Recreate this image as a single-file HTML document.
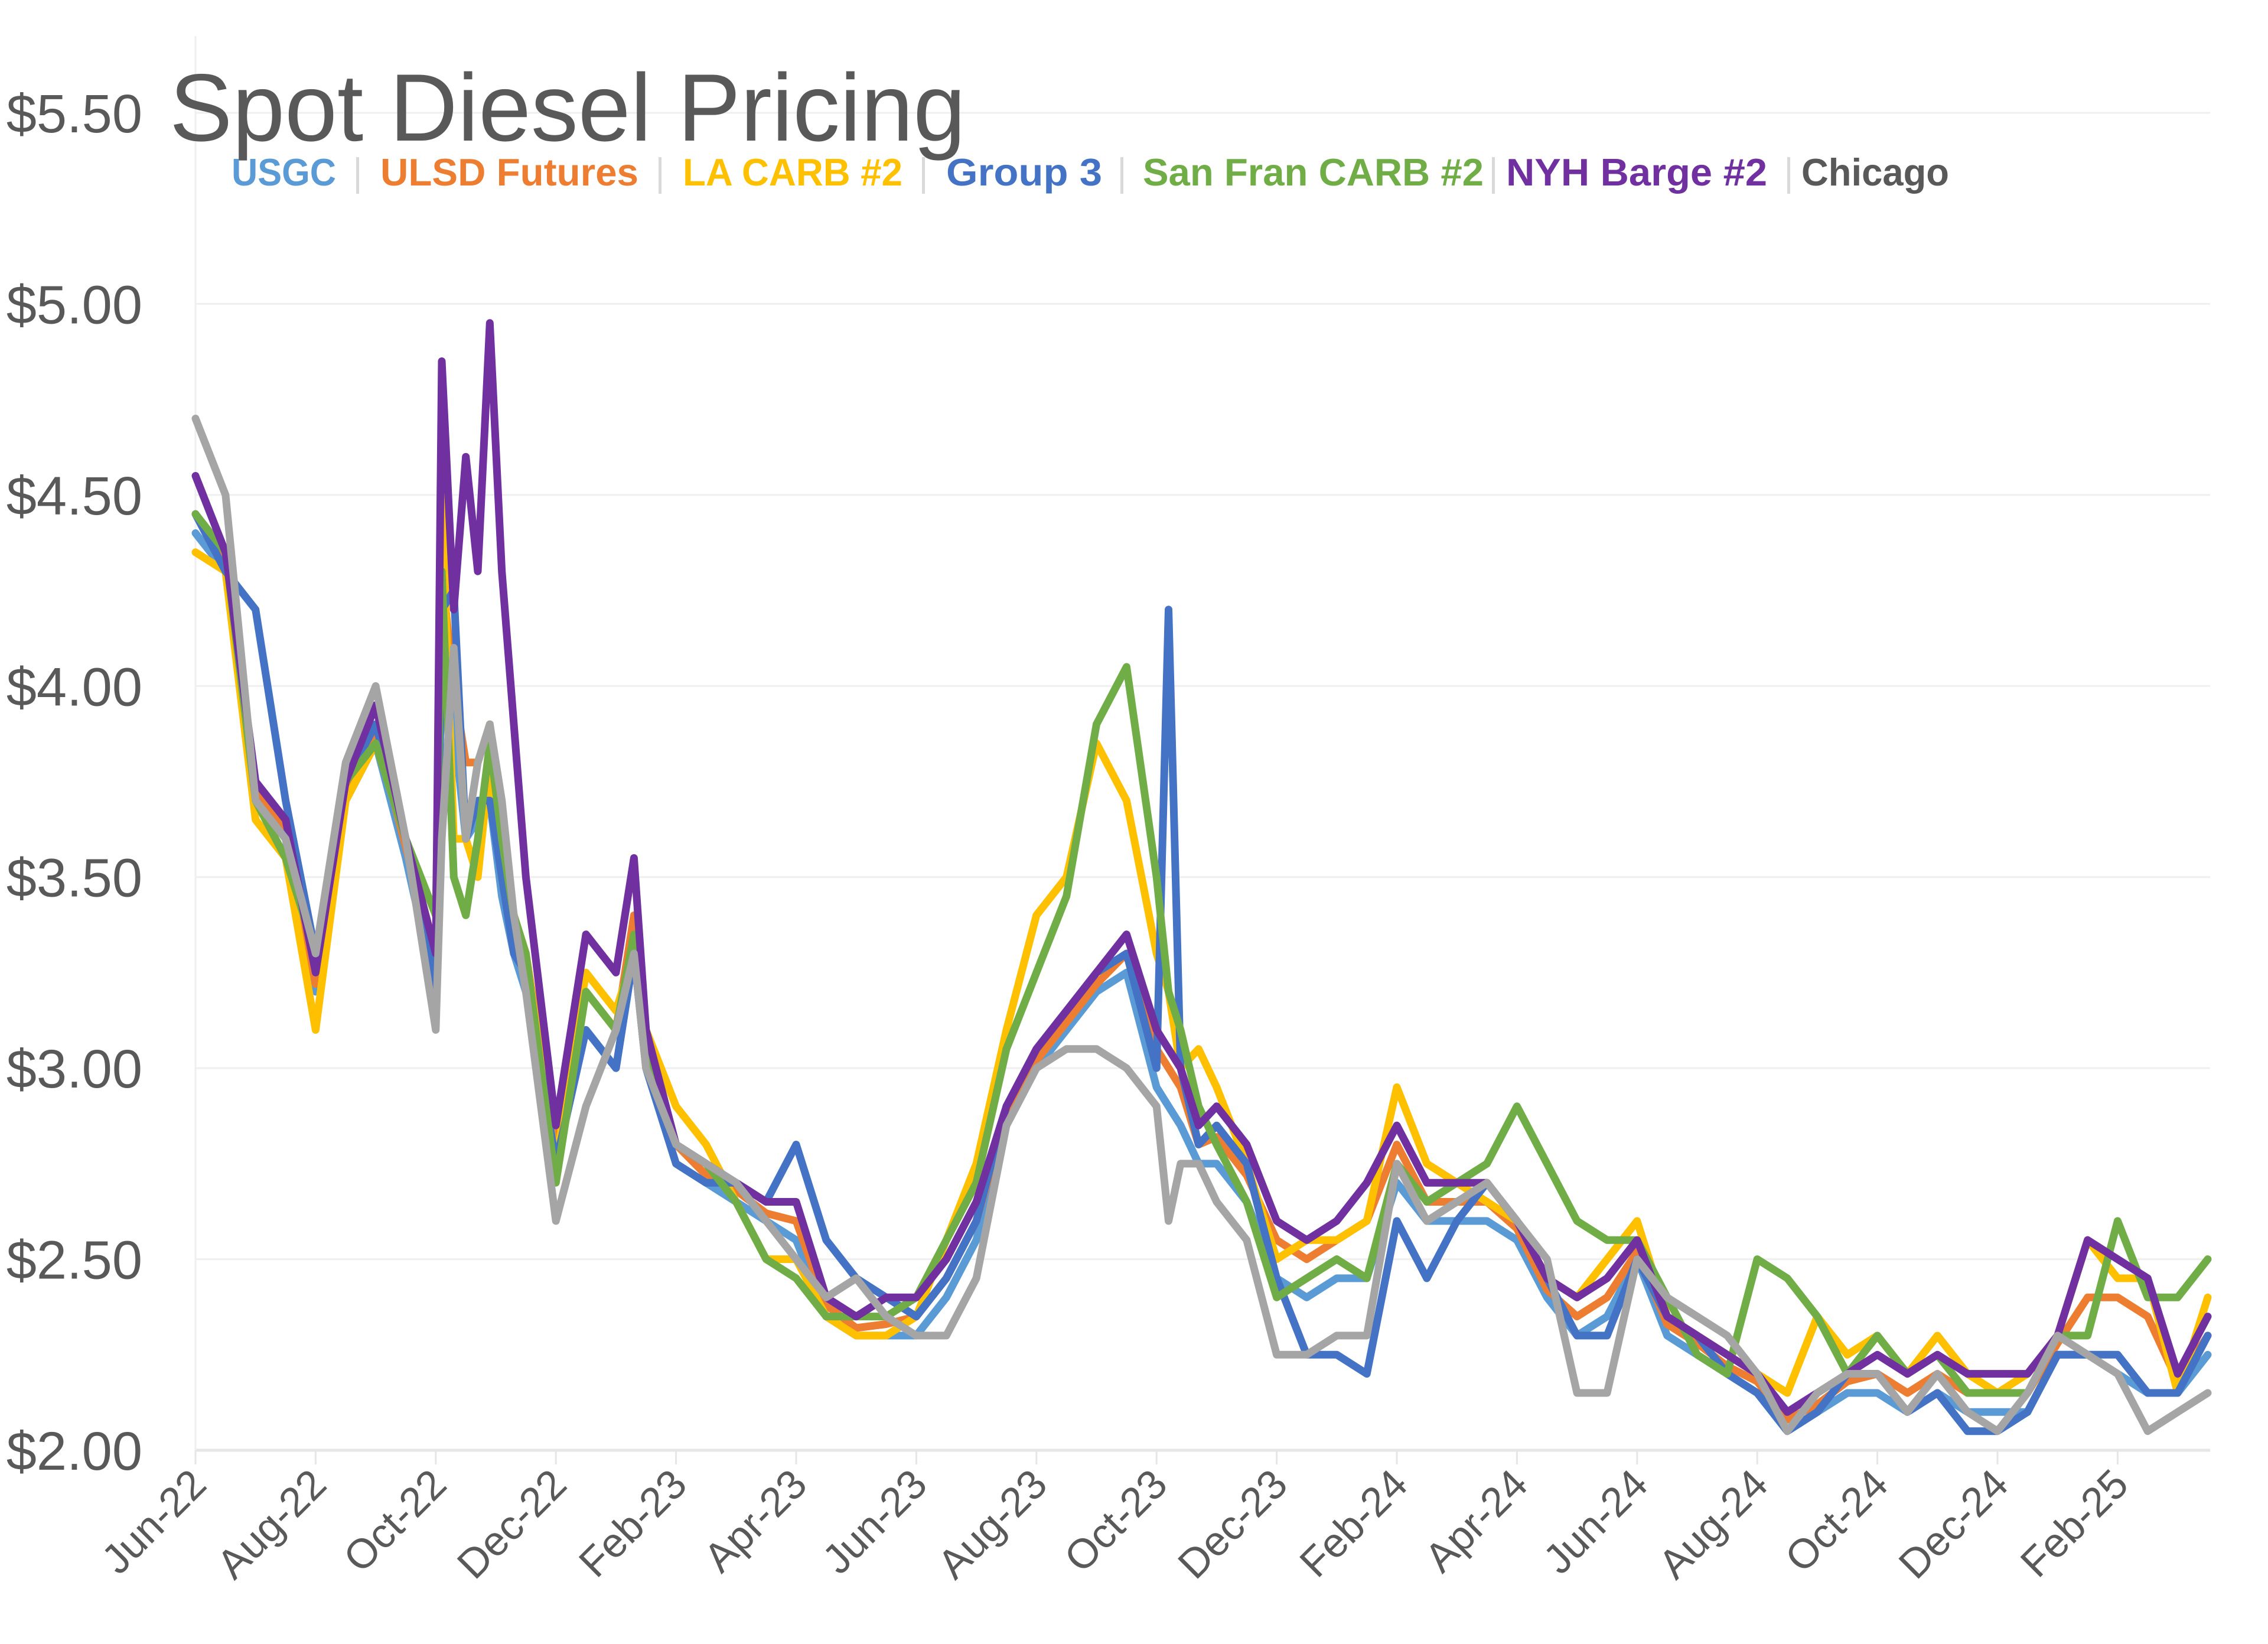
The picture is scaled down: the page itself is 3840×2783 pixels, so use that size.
<!DOCTYPE html>
<html><head><meta charset="utf-8"><style>
html,body{margin:0;padding:0;background:#fff;}
svg{display:block;font-family:"Liberation Sans",sans-serif;}
</style></head><body>
<svg id="chart" width="3840" height="2783" viewBox="0 0 3840 2783" xmlns="http://www.w3.org/2000/svg">
<rect width="3840" height="2783" fill="#fff"/>
<g id="grid"></g>
<g id="yaxis"></g>
<g id="xaxis"></g>
<g id="series"></g>
<text x="287" y="238" font-size="162" fill="#595959" textLength="1348" lengthAdjust="spacingAndGlyphs">Spot Diesel Pricing</text>
<g font-size="65" font-weight="bold">
<text x="392" y="314" fill="#5B9BD5" textLength="177" lengthAdjust="spacingAndGlyphs">USGC</text>
<rect x="603" y="266" width="5" height="62" fill="#d9d9d9"/>
<text x="644" y="314" fill="#ED7D31" textLength="437" lengthAdjust="spacingAndGlyphs">ULSD Futures</text>
<rect x="1115" y="266" width="5" height="62" fill="#d9d9d9"/>
<text x="1156" y="314" fill="#FFC000" textLength="372" lengthAdjust="spacingAndGlyphs">LA CARB #2</text>
<rect x="1561" y="266" width="5" height="62" fill="#d9d9d9"/>
<text x="1602" y="314" fill="#4472C4" textLength="264" lengthAdjust="spacingAndGlyphs">Group 3</text>
<rect x="1897" y="266" width="5" height="62" fill="#d9d9d9"/>
<text x="1935" y="314" fill="#70AD47" textLength="577" lengthAdjust="spacingAndGlyphs">San Fran CARB #2</text>
<rect x="2526" y="266" width="5" height="62" fill="#d9d9d9"/>
<text x="2550" y="314" fill="#7030A0" textLength="442" lengthAdjust="spacingAndGlyphs">NYH Barge #2</text>
<rect x="3026" y="266" width="5" height="62" fill="#d9d9d9"/>
<text x="3050" y="314" fill="#595959" textLength="250" lengthAdjust="spacingAndGlyphs">Chicago</text>
</g>
</svg>
<script>
const months = [0,0.5,1,1.5,2,2.5,3,3.5,4,4.1,4.3,4.5,4.7,4.9,5.1,5.3,5.5,6,6.5,7,7.3,7.5,8,8.5,9,9.5,10,10.5,11,11.5,12,12.5,13,13.5,14,14.5,15,15.5,16,16.2,16.4,16.7,17,17.5,18,18.5,19,19.5,20,20.5,21,21.5,22,22.5,23,23.5,24,24.5,25,25.5,26,26.5,27,27.5,28,28.5,29,29.5,30,30.5,31,31.5,32,32.5,33,33.5];
const usgc = [4.4,4.3,3.7,3.6,3.2,3.7,3.85,3.55,3.2,4.1,3.9,3.6,3.65,3.7,3.45,3.3,3.2,2.75,3.1,3.0,3.3,3.0,2.75,2.7,2.65,2.6,2.55,2.35,2.3,2.3,2.3,2.4,2.55,2.85,3.0,3.1,3.2,3.25,2.95,2.9,2.85,2.75,2.75,2.65,2.45,2.4,2.45,2.45,2.7,2.6,2.6,2.6,2.55,2.4,2.3,2.35,2.5,2.3,2.25,2.2,2.15,2.05,2.1,2.15,2.15,2.1,2.15,2.1,2.1,2.1,2.25,2.25,2.2,2.15,2.15,2.25];
const ulsd = [4.45,4.32,3.72,3.62,3.22,3.72,3.88,3.58,3.25,4.3,4.0,3.8,3.8,3.9,3.6,3.4,3.3,2.8,3.2,3.1,3.4,3.05,2.8,2.72,2.68,2.62,2.6,2.38,2.32,2.33,2.35,2.45,2.6,2.88,3.02,3.12,3.22,3.3,3.05,3.0,2.95,2.8,2.82,2.72,2.55,2.5,2.55,2.6,2.8,2.65,2.65,2.65,2.58,2.42,2.35,2.4,2.52,2.33,2.28,2.22,2.18,2.08,2.12,2.18,2.2,2.15,2.2,2.15,2.15,2.15,2.28,2.4,2.4,2.35,2.18,2.3];
const laCarb = [4.35,4.3,3.65,3.55,3.1,3.7,3.85,3.6,3.3,4.5,3.6,3.6,3.5,3.8,3.5,3.4,3.3,2.75,3.25,3.15,3.3,3.1,2.9,2.8,2.65,2.5,2.5,2.35,2.3,2.3,2.35,2.55,2.75,3.1,3.4,3.5,3.85,3.7,3.3,3.2,3.0,3.05,2.95,2.75,2.5,2.55,2.55,2.6,2.95,2.75,2.7,2.65,2.6,2.45,2.4,2.5,2.6,2.35,2.3,2.25,2.2,2.15,2.35,2.25,2.3,2.2,2.3,2.2,2.15,2.2,2.3,2.55,2.45,2.45,2.15,2.4];
const group3 = [4.45,4.3,4.2,3.7,3.3,3.75,3.9,3.6,3.2,4.2,4.25,3.6,3.7,3.7,3.5,3.3,3.25,2.75,3.1,3.0,3.3,3.0,2.75,2.7,2.7,2.65,2.8,2.55,2.45,2.4,2.35,2.45,2.6,2.9,3.05,3.15,3.25,3.3,3.0,4.2,3.0,2.8,2.85,2.75,2.45,2.25,2.25,2.2,2.6,2.45,2.6,2.7,2.6,2.45,2.3,2.3,2.5,2.35,2.3,2.2,2.15,2.05,2.1,2.2,2.2,2.1,2.15,2.05,2.05,2.1,2.25,2.25,2.25,2.15,2.15,2.3];
const sanFran = [4.45,4.35,3.7,3.55,3.3,3.75,3.85,3.6,3.4,4.3,3.5,3.4,3.6,3.85,3.6,3.4,3.3,2.7,3.2,3.1,3.35,3.05,2.8,2.75,2.65,2.5,2.45,2.35,2.35,2.35,2.4,2.55,2.7,3.05,3.25,3.45,3.9,4.05,3.5,3.2,3.1,2.9,2.8,2.65,2.4,2.45,2.5,2.45,2.75,2.65,2.7,2.75,2.9,2.75,2.6,2.55,2.55,2.4,2.25,2.2,2.5,2.45,2.35,2.2,2.3,2.2,2.25,2.15,2.15,2.15,2.3,2.3,2.6,2.4,2.4,2.5];
const nyhBarge = [4.55,4.35,3.75,3.65,3.25,3.75,3.95,3.6,3.3,4.85,4.2,4.6,4.3,4.95,4.3,3.9,3.5,2.85,3.35,3.25,3.55,3.1,2.8,2.75,2.7,2.65,2.65,2.4,2.35,2.4,2.4,2.5,2.65,2.9,3.05,3.15,3.25,3.35,3.1,3.05,3.0,2.85,2.9,2.8,2.6,2.55,2.6,2.7,2.85,2.7,2.7,2.7,2.6,2.45,2.4,2.45,2.55,2.35,2.3,2.25,2.2,2.1,2.15,2.2,2.25,2.2,2.25,2.2,2.2,2.2,2.3,2.55,2.5,2.45,2.2,2.35];
const chicago = [4.7,4.5,3.7,3.6,3.3,3.8,4.0,3.6,3.1,3.6,4.1,3.6,3.8,3.9,3.7,3.4,3.2,2.6,2.9,3.1,3.3,3.0,2.8,2.75,2.7,2.6,2.5,2.4,2.45,2.35,2.3,2.3,2.45,2.85,3.0,3.05,3.05,3.0,2.9,2.6,2.75,2.75,2.65,2.55,2.25,2.25,2.3,2.3,2.75,2.6,2.65,2.7,2.6,2.5,2.15,2.15,2.5,2.4,2.35,2.3,2.2,2.05,2.15,2.2,2.2,2.1,2.2,2.1,2.05,2.15,2.3,2.25,2.2,2.05,2.1,2.15];
const yTicks = [2.0,2.5,3.0,3.5,4.0,4.5,5.0,5.5];
const xTickLabels = ["Jun-22","Aug-22","Oct-22","Dec-22","Feb-23","Apr-23","Jun-23","Aug-23","Oct-23","Dec-23","Feb-24","Apr-24","Jun-24","Aug-24","Oct-24","Dec-24","Feb-25"];
const xTickMonths = [0,2,4,6,8,10,12,14,16,18,20,22,24,26,28,30,32];

const NS = "http://www.w3.org/2000/svg";
const X0 = 331, X1 = 3742, PXM = 101.7;
const Y0 = 2455, Y1 = 191;
function xs(m){ return X0 + m*PXM; }
function ys(v){ return Y0 - (v-2.0)/(5.5-2.0)*(Y0-Y1); }
function mk(tag, attrs, parent){ const e=document.createElementNS(NS,tag); for(const k in attrs) e.setAttribute(k,attrs[k]); parent.appendChild(e); return e; }

const grid = document.getElementById('grid');
const yaxis = document.getElementById('yaxis');
const xaxis = document.getElementById('xaxis');
const series = document.getElementById('series');

yTicks.forEach(v=>{
  const y=ys(v);
  const l=mk('line',{x1:X0,x2:X1,y1:y,y2:y,stroke:v===2.0?'#e6e6e6':'#efefef','stroke-width':v===2.0?5:3},grid);
  
  
  const t=mk('text',{x:241,y:y+33,'text-anchor':'end','font-size':92,fill:'#595959'},yaxis);
  
  
  t.textContent='$'+v.toFixed(2);
});
const ax=mk('line',{x1:X0,x2:X0,y1:61,y2:Y0+22,stroke:'#efefef','stroke-width':3},grid);



xTickMonths.forEach((m,i)=>{
  const x=xs(m);
  const tk=mk('line',{x1:x,x2:x,y1:Y0,y2:Y0+24,stroke:'#e6e6e6','stroke-width':3},xaxis);
  
  
  const t=mk('text',{x:x+22,y:Y0+62,'text-anchor':'end','font-size':70,fill:'#595959',transform:`rotate(-45 ${x+22} ${Y0+62})`},xaxis);
  
  
  t.textContent=xTickLabels[i];
});

const list=[['usgc',usgc,'#5B9BD5'],['ulsd-futures',ulsd,'#ED7D31'],['la-carb',laCarb,'#FFC000'],['group-3',group3,'#4472C4'],['san-fran-carb',sanFran,'#70AD47'],['nyh-barge',nyhBarge,'#7030A0'],['chicago',chicago,'#A5A5A5']];
list.forEach(([name,vals,col])=>{
  const d=vals.map((v,i)=>(i?'L':'M')+xs(months[i]).toFixed(1)+' '+ys(v).toFixed(1)).join(' ');
  const p=mk('path',{d:d,fill:'none',stroke:col,'stroke-width':13,'stroke-linejoin':'round','stroke-linecap':'round'},series);
  
  
});
</script>
</body></html>
